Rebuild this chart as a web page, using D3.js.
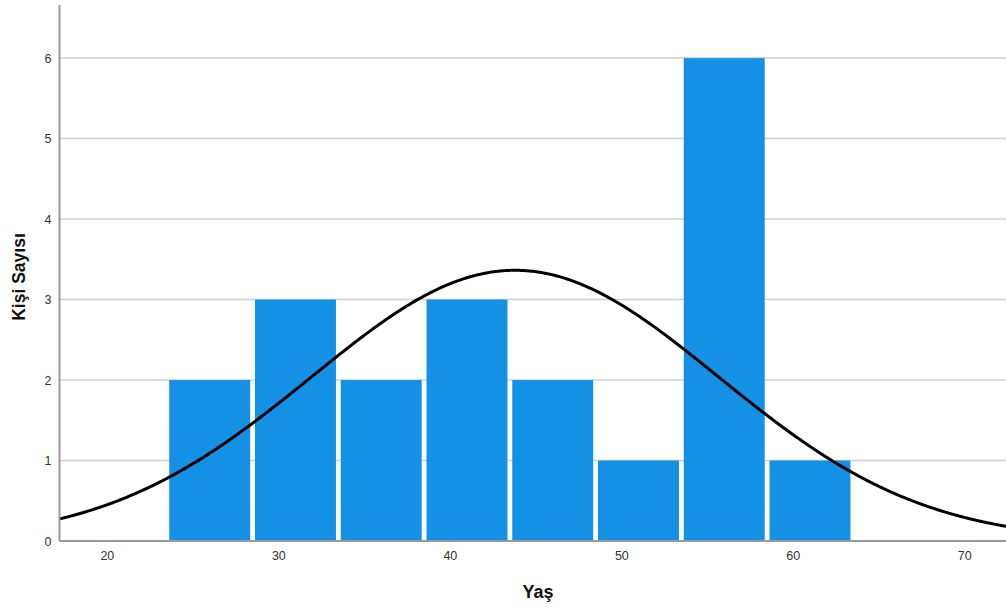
<!DOCTYPE html>
<html>
<head>
<meta charset="utf-8">
<script src="https://cdn.jsdelivr.net/npm/d3@7"></script>
<style>
  html, body { margin: 0; padding: 0; background: #fff; }
  svg { display: block; }
</style>
</head>
<body>
<svg id="chart" width="1006" height="607"></svg>
<script>
// Age histogram (bins of 5 years) with fitted normal curve
const binStarts = [23.5, 28.5, 33.5, 38.5, 43.5, 48.5, 53.5, 58.5];
const binWidth = 5;
const counts = [2, 3, 2, 3, 2, 1, 6, 1];
const xTicks = [20, 30, 40, 50, 60, 70];
const yTicks = [0, 1, 2, 3, 4, 5, 6];
const mean = 43.8;
const sd = 11.86;
const n = 20;

const width = 1006, height = 607;
const plot = { left: 59.5, right: 1006, top: 5, bottom: 541 };

const x = d3.scaleLinear().domain([17.24, 72.43]).range([plot.left, plot.right]);
const y = d3.scaleLinear().domain([0, 6.66]).range([plot.bottom, plot.top]);

const svg = d3.select("#chart");

// horizontal gridlines
svg.append("g")
  .selectAll("line")
  .data(yTicks.filter(d => d > 0))
  .join("line")
  .attr("x1", plot.left).attr("x2", plot.right)
  .attr("y1", d => y(d)).attr("y2", d => y(d))
  .attr("stroke", "#cfcfcf").attr("stroke-width", 1.5);

// bars
const inset = 2.4;
svg.append("g")
  .selectAll("rect")
  .data(binStarts.map((s, i) => ({ s, c: counts[i] })))
  .join("rect")
  .attr("x", d => x(d.s) + inset)
  .attr("width", d => x(d.s + binWidth) - x(d.s) - 2 * inset)
  .attr("y", d => y(d.c))
  .attr("height", d => y(0) - y(d.c))
  .attr("fill", "#1490e4");

// normal curve scaled to counts
const pdfScale = n * binWidth / (sd * Math.sqrt(2 * Math.PI));
const curveX = d3.range(x.domain()[0], x.domain()[1] + 0.1, 0.1);
const line = d3.line()
  .x(d => x(d))
  .y(d => y(pdfScale * Math.exp(-0.5 * Math.pow((d - mean) / sd, 2))))
  .curve(d3.curveBasis);
svg.append("path")
  .datum(curveX)
  .attr("d", line)
  .attr("fill", "none")
  .attr("stroke", "#000")
  .attr("stroke-width", 3);

// axes
const yAxis = d3.axisLeft(y).tickValues(yTicks).tickSize(0).tickPadding(8).tickFormat(d3.format("d"));
const gy = svg.append("g").attr("transform", `translate(${plot.left},0)`).call(yAxis);
gy.select(".domain").remove();
gy.selectAll("text")
  .attr("font-family", "Liberation Sans, Arial, sans-serif")
  .attr("font-size", 12.5).attr("fill", "#333");

const xAxis = d3.axisBottom(x).tickValues(xTicks).tickSize(0).tickPadding(10).tickFormat(d3.format("d"));
const gx = svg.append("g").attr("transform", `translate(0,${plot.bottom})`).call(xAxis);
gx.select(".domain").remove();
gx.selectAll("text")
  .attr("font-family", "Liberation Sans, Arial, sans-serif")
  .attr("font-size", 12.5).attr("fill", "#333");

// axis lines
svg.append("line")
  .attr("x1", plot.left).attr("x2", plot.left)
  .attr("y1", plot.top).attr("y2", plot.bottom)
  .attr("stroke", "#999").attr("stroke-width", 2);
svg.append("line")
  .attr("x1", plot.left).attr("x2", plot.right)
  .attr("y1", plot.bottom).attr("y2", plot.bottom)
  .attr("stroke", "#999").attr("stroke-width", 2);

// axis titles
svg.append("text")
  .attr("x", 538).attr("y", 598)
  .attr("text-anchor", "middle")
  .attr("font-family", "Liberation Sans, Arial, sans-serif")
  .attr("font-weight", "bold").attr("font-size", 18).attr("fill", "#111")
  .text("Yaş");
svg.append("text")
  .attr("transform", "translate(25,277) rotate(-90)")
  .attr("text-anchor", "middle")
  .attr("font-family", "Liberation Sans, Arial, sans-serif")
  .attr("font-weight", "bold").attr("font-size", 17.5).attr("fill", "#111")
  .text("Kişi Sayısı");
</script>
</body>
</html>
